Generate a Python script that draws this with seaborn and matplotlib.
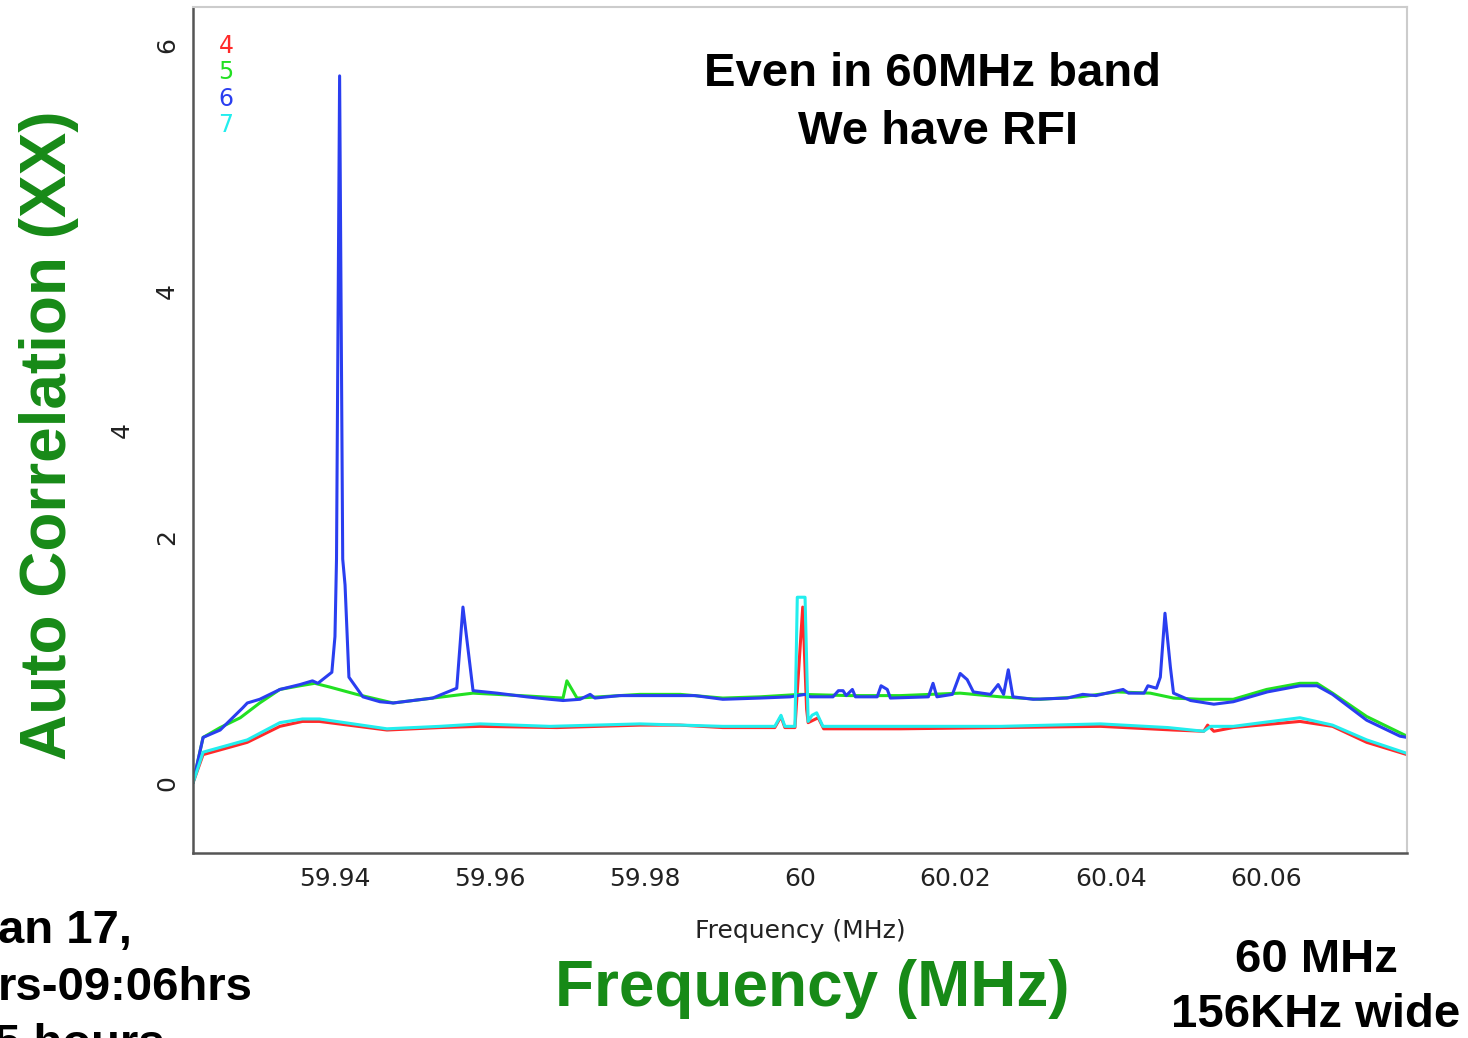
import numpy as np
import pandas as pd
import matplotlib
matplotlib.use("Agg")
import matplotlib.pyplot as plt
from matplotlib.ticker import MultipleLocator, FixedLocator, FixedFormatter
import seaborn as sns

# ---------------- data (frequency in MHz, auto-correlation amplitude) -------------
freq_4 = [59.9217, 59.9230, 59.9287, 59.9329, 59.9358, 59.9380, 59.9467, 59.9535,
          59.9587, 59.9686, 59.9793, 59.9845, 59.9900, 59.9967, 59.9975, 59.9980,
          59.9993, 60.0003, 60.0008, 60.0010, 60.0023, 60.0030, 60.0129, 60.0258,
          60.0387, 60.0481, 60.0520, 60.0525, 60.0533, 60.0558, 60.0644, 60.0686,
          60.0730, 60.0782]
ant_4 = [0.00, 0.23, 0.33, 0.46, 0.50, 0.50, 0.43, 0.45,
         0.46, 0.45, 0.47, 0.47, 0.45, 0.45, 0.54, 0.45,
         0.45, 1.43, 0.60, 0.49, 0.53, 0.44, 0.44, 0.45,
         0.46, 0.43, 0.42, 0.47, 0.42, 0.45, 0.50, 0.46,
         0.33, 0.23]

freq_5 = [59.9217, 59.9230, 59.9252, 59.9278, 59.9303, 59.9329, 59.9355, 59.9374,
          59.9393, 59.9428, 59.9475, 59.9526, 59.9578, 59.9639, 59.9694, 59.9699,
          59.9712, 59.9741, 59.9793, 59.9845, 59.9900, 59.9948, 60.0000, 60.0064,
          60.0129, 60.0206, 60.0258, 60.0309, 60.0361, 60.0408, 60.0451, 60.0481,
          60.0515, 60.0558, 60.0601, 60.0644, 60.0666, 60.0686, 60.0730, 60.0782]
ant_5 = [0.00, 0.37, 0.45, 0.53, 0.65, 0.76, 0.79, 0.81,
         0.78, 0.72, 0.65, 0.69, 0.73, 0.71, 0.69, 0.83,
         0.69, 0.70, 0.72, 0.72, 0.69, 0.70, 0.72, 0.71,
         0.71, 0.73, 0.70, 0.68, 0.70, 0.74, 0.73, 0.69,
         0.68, 0.68, 0.76, 0.81, 0.81, 0.73, 0.54, 0.38]

freq_6 = [59.9217, 59.9230, 59.9252, 59.9281, 59.9287, 59.9303, 59.9329, 59.9355,
          59.9371, 59.9378, 59.9396, 59.9400, 59.9402, 59.9406, 59.9410, 59.9413,
          59.9418, 59.9436, 59.9458, 59.9475, 59.9526, 59.9557, 59.9565, 59.9578,
          59.9609, 59.9647, 59.9677, 59.9694, 59.9716, 59.9729, 59.9735, 59.9767,
          59.9793, 59.9845, 59.9864, 59.9900, 59.9948, 59.9987, 60.0006, 60.0013,
          60.0042, 60.0049, 60.0055, 60.0059, 60.0067, 60.0071, 60.0099, 60.0104,
          60.0112, 60.0116, 60.0165, 60.0171, 60.0176, 60.0196, 60.0206, 60.0215,
          60.0223, 60.0245, 60.0255, 60.0262, 60.0268, 60.0274, 60.0300, 60.0344,
          60.0364, 60.0381, 60.0416, 60.0423, 60.0443, 60.0448, 60.0459, 60.0464,
          60.0470, 60.0477, 60.0481, 60.0503, 60.0533, 60.0558, 60.0602, 60.0644,
          60.0666, 60.0686, 60.0730, 60.0773, 60.0782]
ant_6 = [0.00, 0.37, 0.43, 0.61, 0.65, 0.68, 0.76, 0.80,
         0.83, 0.81, 0.90, 1.19, 1.82, 5.75, 1.82, 1.61,
         0.86, 0.70, 0.66, 0.65, 0.69, 0.77, 1.43, 0.75,
         0.73, 0.70, 0.68, 0.67, 0.68, 0.72, 0.69, 0.71,
         0.71, 0.71, 0.71, 0.68, 0.69, 0.70, 0.72, 0.70,
         0.70, 0.75, 0.75, 0.71, 0.76, 0.70, 0.70, 0.79,
         0.76, 0.69, 0.70, 0.81, 0.70, 0.72, 0.89, 0.84,
         0.74, 0.72, 0.80, 0.72, 0.92, 0.70, 0.68, 0.69,
         0.72, 0.71, 0.76, 0.73, 0.73, 0.79, 0.77, 0.86,
         1.38, 0.94, 0.73, 0.67, 0.64, 0.66, 0.74, 0.79,
         0.79, 0.72, 0.51, 0.38, 0.37]

freq_7 = [59.9217, 59.9230, 59.9287, 59.9329, 59.9358, 59.9380, 59.9467, 59.9535,
          59.9587, 59.9677, 59.9793, 59.9900, 59.9967, 59.9975, 59.9980, 59.9993,
          59.9996, 60.0006, 60.0010, 60.0015, 60.0021, 60.0029, 60.0129, 60.0258,
          60.0387, 60.0474, 60.0520, 60.0529, 60.0558, 60.0644, 60.0686, 60.0730,
          60.0782]
ant_7 = [0.00, 0.25, 0.35, 0.49, 0.52, 0.52, 0.44, 0.46,
         0.48, 0.46, 0.48, 0.46, 0.46, 0.55, 0.46, 0.46,
         1.51, 1.51, 0.50, 0.55, 0.57, 0.46, 0.46, 0.46,
         0.48, 0.45, 0.42, 0.46, 0.46, 0.53, 0.47, 0.35,
         0.24]

series_names = ["4", "5", "6", "7"]
series_colors = ["#ff2a2a", "#22e022", "#2a3ef0", "#22eeee"]

x_ticks = [59.94, 59.96, 59.98, 60.00, 60.02, 60.04, 60.06]
x_tick_labels = ["59.94", "59.96", "59.98", "60", "60.02", "60.04", "60.06"]
y_ticks = [0, 2, 4, 6]
y_tick_labels = ["0", "2", "4", "6"]

# ---------------- build long-form table -------------------------------------------
frames = []
for name, f, v in zip(series_names, [freq_4, freq_5, freq_6, freq_7],
                      [ant_4, ant_5, ant_6, ant_7]):
    frames.append(pd.DataFrame({"freq": f, "amp": v, "ant": name}))
df = pd.concat(frames, ignore_index=True)

# ---------------- figure -----------------------------------------------------------
sns.set_style("white")
plt.rcParams["font.family"] = ["Liberation Sans", "DejaVu Sans"]

W, H = 1468, 1038
fig = plt.figure(figsize=(W / 100, H / 100), dpi=100)
ax = fig.add_axes([193 / W, 1 - 853 / H, (1407 - 193) / W, (853 - 7) / H])

sns.lineplot(data=df, x="freq", y="amp", hue="ant", hue_order=series_names,
             palette=series_colors, sort=False, estimator=None, lw=2.2,
             legend=False, ax=ax)

ax.set_xlim(59.9217, 60.0782)
ax.set_ylim(-0.57, 6.31)

ax.xaxis.set_major_locator(FixedLocator(x_ticks))
ax.xaxis.set_major_formatter(FixedFormatter(x_tick_labels))
ax.xaxis.set_minor_locator(MultipleLocator(0.01))
ax.yaxis.set_major_locator(FixedLocator(y_ticks))
ax.yaxis.set_major_formatter(FixedFormatter(y_tick_labels))
ax.yaxis.set_minor_locator(MultipleLocator(1))

ax.tick_params(which="both", direction="in", colors="#555555",
               labelcolor="#222222", width=1.5)
ax.tick_params(which="major", length=11, labelsize=18)
ax.tick_params(which="minor", length=6)
ax.tick_params(axis="x", which="major", pad=10, top=False)
ax.tick_params(axis="y", which="major", pad=10, right=False)
ax.tick_params(axis="x", which="minor", top=False)
ax.tick_params(axis="y", which="minor", right=False)
for lbl in ax.get_yticklabels():
    lbl.set_rotation(90)
    lbl.set_va("center")
    lbl.set_family("DejaVu Sans")
for lbl in ax.get_xticklabels():
    lbl.set_family("DejaVu Sans")

for side in ["left", "bottom"]:
    ax.spines[side].set_color("#555555")
    ax.spines[side].set_linewidth(1.8)
for side in ["top", "right"]:
    ax.spines[side].set_color("#cccccc")
    ax.spines[side].set_linewidth(1.5)

ax.set_xlabel("Frequency (MHz)", fontsize=18, family="DejaVu Sans", color="#222222")
ax.xaxis.set_label_coords(0.5, (853 - 919) / 846)
ax.set_ylabel("4", fontsize=18, family="DejaVu Sans", color="#222222")
ax.yaxis.set_label_coords((134 - 193) / 1214, 0.5)

# legend-style antenna labels
for i, (name, col) in enumerate(zip(series_names, series_colors)):
    ax.text((226 - 193) / 1214, (853 - (46 + 26.3 * i)) / 846, name, color=col,
            fontsize=17, family="DejaVu Sans", ha="center", va="center",
            transform=ax.transAxes)

# ---------------- slide annotations ------------------------------------------------
green = "#178a17"
fig.text(49 / W, 1 - 435 / H, "Auto Correlation (XX)", rotation=90, color=green,
         fontsize=46, fontweight="bold", ha="center", va="center")
fig.text(812 / W, 1 - 989 / H, "Frequency (MHz)", color=green,
         fontsize=46, fontweight="bold", ha="center", va="center")
fig.text(932 / W, 1 - 74 / H, "Even in 60MHz band", color="black",
         fontsize=34, fontweight="bold", ha="center", va="center")
fig.text(938 / W, 1 - 132 / H, "We have RFI", color="black",
         fontsize=34, fontweight="bold", ha="center", va="center")
fig.text(1316 / W, 1 - 960 / H, "60 MHz", color="black",
         fontsize=34, fontweight="bold", ha="center", va="center")
fig.text(1316 / W, 1 - 1015 / H, "156KHz wide", color="black",
         fontsize=34, fontweight="bold", ha="center", va="center")
fig.text(-2 / W, 1 - 931 / H, "an 17,", color="black",
         fontsize=34, fontweight="bold", ha="left", va="center")
fig.text(-2 / W, 1 - 988 / H, "rs-09:06hrs", color="black",
         fontsize=34, fontweight="bold", ha="left", va="center")
fig.text(-6 / W, 1 - 1045 / H, "5 hours", color="black",
         fontsize=34, fontweight="bold", ha="left", va="center")

fig.savefig("out.png", dpi=100, facecolor="white")
